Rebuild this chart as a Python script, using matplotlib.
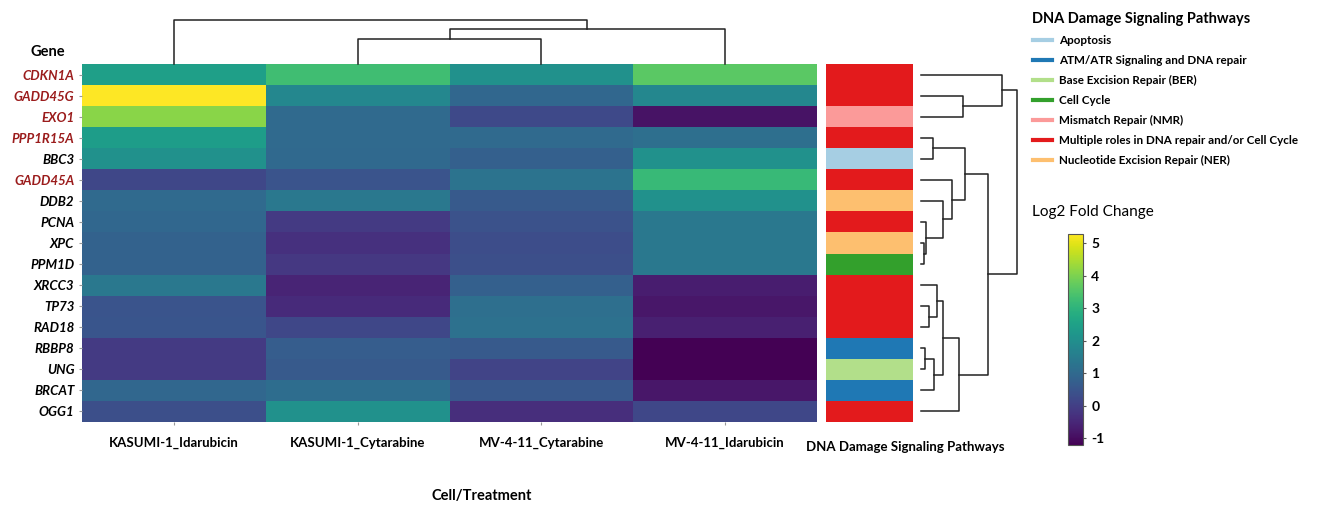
import numpy as np
import matplotlib
matplotlib.use("Agg")
import matplotlib.pyplot as plt
from matplotlib.colors import ListedColormap, Normalize
from matplotlib.lines import Line2D

plt.rcParams['font.family'] = ['Lato', 'DejaVu Sans']
plt.rcParams['axes.unicode_minus'] = False

genes = ['CDKN1A', 'GADD45G', 'EXO1', 'PPP1R15A', 'BBC3', 'GADD45A', 'DDB2',
         'PCNA', 'XPC', 'PPM1D', 'XRCC3', 'TP73', 'RAD18', 'RBBP8', 'UNG',
         'BRCAT', 'OGG1']
highlighted = ['CDKN1A', 'GADD45G', 'EXO1', 'PPP1R15A', 'GADD45A']
treatments = ['KASUMI-1_Idarubicin', 'KASUMI-1_Cytarabine',
              'MV-4-11_Cytarabine', 'MV-4-11_Idarubicin']

# log2 fold change, one list per treatment (gene order as above)
kasumi_ida = [2.44, 5.28, 4.13, 2.38, 2.05, 0.17, 1.01, 0.95, 0.82, 0.80,
              1.40, 0.49, 0.50, -0.10, -0.10, 0.95, 0.36]
kasumi_cyt = [3.29, 1.79, 1.01, 1.01, 1.00, 0.49, 1.40, -0.10, -0.29, -0.16,
              -0.55, -0.42, 0.17, 0.69, 0.62, 1.08, 2.05]
mv411_cyt = [2.05, 0.95, 0.23, 1.01, 0.75, 1.27, 0.62, 0.43, 0.30, 0.36,
             0.75, 1.14, 1.20, 0.62, 0.10, 0.56, -0.36]
mv411_ida = [3.61, 1.79, -0.88, 1.14, 2.05, 3.16, 2.05, 1.40, 1.40, 1.40,
             -0.68, -0.81, -0.62, -1.20, -1.20, -0.81, 0.17]

pathway_names = ['Apoptosis', 'ATM/ATR Signaling and DNA repair',
                 'Base Excision Repair (BER)', 'Cell Cycle',
                 'Mismatch Repair (NMR)',
                 'Multiple roles in DNA repair and/or Cell Cycle',
                 'Nucleotide Excision Repair (NER)']
pathway_colors = ['#a6cee3', '#1f78b4', '#b2df8a', '#33a02c', '#fb9a99',
                  '#e31a1c', '#fdbf6f']
# pathway index for each gene
gene_pathway = [5, 5, 4, 5, 0, 5, 6, 5, 6, 3, 5, 5, 5, 1, 2, 1, 5]

# hierarchical merges (child a, child b, height); ids >= n are earlier merges
row_merges = [(8, 9, 3), (13, 14, 4), (7, 17, 5), (11, 12, 8), (3, 4, 12),
              (18, 15, 13), (10, 20, 16), (6, 19, 22), (23, 22, 22),
              (5, 24, 31), (25, 16, 38), (1, 2, 42), (21, 26, 44),
              (29, 27, 67), (0, 28, 81), (31, 30, 96)]
col_merges = [(1, 2, 25), (4, 3, 35), (0, 5, 44)]


def dendro_segments(merges, n):
    pos = {i: i + 0.5 for i in range(n)}
    hgt = {i: 0.0 for i in range(n)}
    segs = []
    for k, (a, b, h) in enumerate(merges):
        segs.append(([pos[a], pos[a], pos[b], pos[b]], [hgt[a], h, h, hgt[b]]))
        pos[n + k] = (pos[a] + pos[b]) / 2
        hgt[n + k] = h
    return segs


W, H = 1331, 505
fig = plt.figure(figsize=(W / 100, H / 100), dpi=100)


def box(x0, y0, x1, y1):
    return [x0 / W, 1 - y1 / H, (x1 - x0) / W, (y1 - y0) / H]


data = np.array([kasumi_ida, kasumi_cyt, mv411_cyt, mv411_ida]).T
norm = Normalize(vmin=data.min(), vmax=data.max())

# main heatmap
ax = fig.add_axes(box(82, 64, 817, 422))
ax.pcolormesh(data, cmap='viridis', norm=norm)
ax.set_xlim(0, len(treatments))
ax.set_ylim(len(genes), 0)
ax.set_xticks(np.arange(len(treatments)) + 0.5)
ax.set_xticklabels(treatments, fontsize=9.5, fontweight='bold')
ax.set_yticks(np.arange(len(genes)) + 0.5)
ax.set_yticklabels(genes, fontsize=9.5, fontweight='bold', fontstyle='italic')
for lbl in ax.get_yticklabels():
    if lbl.get_text() in highlighted:
        lbl.set_color('#9b1c1c')
ax.tick_params(length=2.5, color='#999999', pad=3)
ax.tick_params(axis='x', pad=8)
for s in ax.spines.values():
    s.set_visible(False)

# pathway colour strip
axc = fig.add_axes(box(826, 64, 913, 422))
strip_cmap = ListedColormap(pathway_colors)
axc.pcolormesh(np.array(gene_pathway)[:, None], cmap=strip_cmap,
               vmin=-0.5, vmax=len(pathway_colors) - 0.5)
axc.set_ylim(len(genes), 0)
axc.set_xticks([])
axc.set_yticks([])
for s in axc.spines.values():
    s.set_visible(False)
fig.text(905 / W, 1 - 447 / H, 'DNA Damage Signaling Pathways', fontsize=9.5,
         fontweight='bold', ha='center', va='center')

# column dendrogram
axd = fig.add_axes(box(82, 20, 817, 64))
for xs, ys in dendro_segments(col_merges, len(treatments)):
    axd.plot(xs, ys, color='#222222', lw=1.1, clip_on=False)
axd.set_xlim(0, len(treatments))
axd.set_ylim(0, max(m[2] for m in col_merges))
axd.axis('off')

# row dendrogram
axr = fig.add_axes(box(921, 64, 1017, 422))
for ps, hs in dendro_segments(row_merges, len(genes)):
    axr.plot(hs, ps, color='#222222', lw=1.1, clip_on=False)
axr.set_ylim(len(genes), 0)
axr.set_xlim(0, max(m[2] for m in row_merges))
axr.axis('off')

fig.text(48 / W, 1 - 52 / H, 'Gene', fontsize=10.5, fontweight='bold',
         ha='center', va='center')
fig.text(482 / W, 1 - 496 / H, 'Cell/Treatment', fontsize=10.5,
         fontweight='bold', ha='center', va='center')

# pathway legend
handles = [Line2D([], [], color=c, lw=3) for c in pathway_colors]
leg = fig.legend(handles, pathway_names, loc='upper left',
                 bbox_to_anchor=(1022 / W, 1 - 1 / H), frameon=False,
                 fontsize=8.4, handlelength=1.7, handletextpad=0.55,
                 labelspacing=0.78, title='DNA Damage Signaling Pathways',
                 title_fontproperties={'weight': 'bold', 'size': 10.5},
                 alignment='left')
for t in leg.get_texts():
    t.set_fontweight('bold')

# colour bar
fig.text(1032 / W, 1 - 212 / H, 'Log2 Fold Change', fontsize=11,
         ha='left', va='center')
cax = fig.add_axes(box(1068, 234, 1083, 445))
cb = fig.colorbar(plt.cm.ScalarMappable(norm=norm, cmap='viridis'), cax=cax)
cb.set_ticks(range(-1, 6))
cb.ax.tick_params(labelsize=10, length=2, color='#555555', pad=4)
for t in cb.ax.get_yticklabels():
    t.set_fontweight('bold')
cb.outline.set_edgecolor('#555555')
cb.outline.set_linewidth(0.8)

fig.savefig('out.png', dpi=100)
